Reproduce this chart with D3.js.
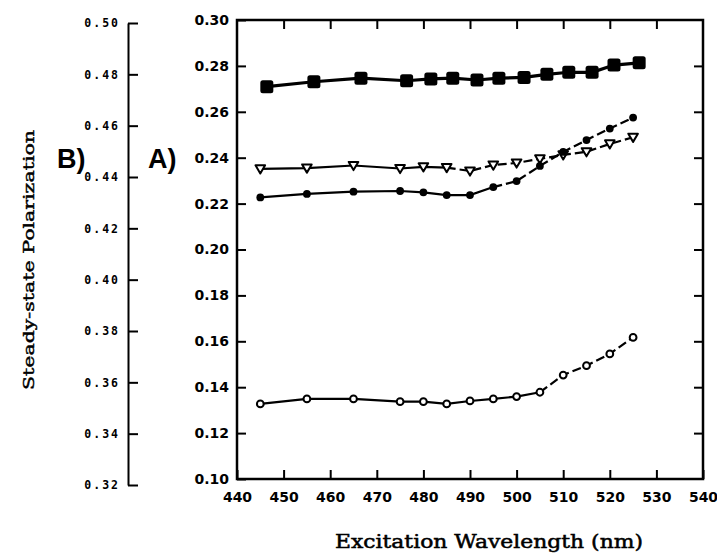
<!DOCTYPE html>
<html>
<head>
<meta charset="utf-8">
<script src="https://cdn.jsdelivr.net/npm/d3@7"></script>
<style>
body { margin: 0; background: #fff; }
svg { display: block; }
</style>
</head>
<body>
<svg width="717" height="560"></svg>
<script>
// values
var wavelengths = [445, 455, 465, 475, 480, 485, 490, 495, 500, 505, 510, 515, 520, 525];
var squareWavelengths = [446.4, 456.5, 466.6, 476.4, 481.6, 486.3, 491.5, 496.2, 501.6, 506.5, 511.2, 516.2, 520.9, 526.3];
var squaresB = [0.4752, 0.4771, 0.4785, 0.4775, 0.4782, 0.4785, 0.4778, 0.4785, 0.4788, 0.4800, 0.4808, 0.4808, 0.4836, 0.4845];
var trianglesA = [0.2351, 0.2355, 0.2366, 0.2353, 0.2360, 0.2357, 0.2342, 0.2368, 0.2377, 0.2395, 0.2412, 0.2426, 0.2460, 0.2489];
var filledA = [0.2227, 0.2242, 0.2252, 0.2255, 0.2249, 0.2237, 0.2237, 0.2272, 0.2298, 0.2364, 0.2425, 0.2477, 0.2527, 0.2575];
var openA = [0.1327, 0.1349, 0.1349, 0.1337, 0.1337, 0.1327, 0.1340, 0.1349, 0.1359, 0.1378, 0.1453, 0.1494, 0.1545, 0.1617];

var xTicks = [440, 450, 460, 470, 480, 490, 500, 510, 520, 530, 540];
var aTicks = [0.10, 0.12, 0.14, 0.16, 0.18, 0.20, 0.22, 0.24, 0.26, 0.28, 0.30];
var bTicks = [0.32, 0.34, 0.36, 0.38, 0.40, 0.42, 0.44, 0.46, 0.48, 0.50];

var svg = d3.select('svg');

var x = d3.scaleLinear().domain([440, 540]).range([237, 703]);
var yA = d3.scaleLinear().domain([0.10, 0.30]).range([479, 20]);
var yB = d3.scaleLinear().domain([0.32, 0.50]).range([485, 23]);

var boldSans = 'DejaVu Sans, sans-serif';

function styleAxis(g, width) {
    g.attr('font-family', boldSans).attr('font-weight', 'bold').attr('font-size', 14);
    g.selectAll('.tick line').attr('stroke', '#000').attr('stroke-width', width);
    g.selectAll('.tick text').attr('fill', '#000');
}

// frame of panel A
svg.append('rect')
    .attr('x', x.range()[0])
    .attr('y', yA.range()[1])
    .attr('width', x.range()[1] - x.range()[0])
    .attr('height', yA.range()[0] - yA.range()[1])
    .attr('fill', 'none')
    .attr('stroke', '#000')
    .attr('stroke-width', 2.5);

// bottom axis with labels
var axisBottomG = svg.append('g')
    .attr('transform', 'translate(0,' + yA.range()[0] + ')')
    .call(d3.axisBottom(x).tickValues(xTicks).tickSizeInner(-9).tickSizeOuter(0)
        .tickPadding(13).tickFormat(d3.format('d')));
axisBottomG.select('.domain').remove();
styleAxis(axisBottomG, 2);

// top axis, ticks only
var axisTopG = svg.append('g')
    .attr('transform', 'translate(0,' + yA.range()[1] + ')')
    .call(d3.axisTop(x).tickValues(xTicks.slice(1, -1)).tickSizeInner(-9).tickSizeOuter(0).tickFormat(''));
axisTopG.select('.domain').remove();
styleAxis(axisTopG, 2);

// left axis A
var axisLeftG = svg.append('g')
    .attr('transform', 'translate(' + x.range()[0] + ',0)')
    .call(d3.axisLeft(yA).tickValues(aTicks).tickSizeInner(-9).tickSizeOuter(0)
        .tickPadding(8).tickFormat(d3.format('.2f')));
axisLeftG.select('.domain').remove();
styleAxis(axisLeftG, 2);

// right axis, ticks only
var axisRightG = svg.append('g')
    .attr('transform', 'translate(' + x.range()[1] + ',0)')
    .call(d3.axisRight(yA).tickValues(aTicks.slice(1, -1)).tickSizeInner(-9).tickSizeOuter(0).tickFormat(''));
axisRightG.select('.domain').remove();
styleAxis(axisRightG, 2);

// separate axis B on the far left
var axisBG = svg.append('g')
    .attr('transform', 'translate(128,0)')
    .call(d3.axisLeft(yB).tickValues(bTicks).tickSizeInner(-10).tickSizeOuter(0)
        .tickPadding(8).tickFormat(d3.format('.2f')));
axisBG.select('.domain').attr('stroke', '#000').attr('stroke-width', 2);
axisBG.attr('font-family', 'DejaVu Sans Mono, monospace').attr('font-weight', 'bold').attr('font-size', 11.5);
axisBG.selectAll('.tick line').attr('stroke', '#000').attr('stroke-width', 2);
axisBG.selectAll('.tick text').attr('fill', '#000').attr('letter-spacing', 2);

// panel letters
svg.append('text').attr('x', 57).attr('y', 168).text('B)')
    .attr('font-family', 'Liberation Sans, Arial, sans-serif').attr('font-weight', 'bold').attr('font-size', 27);
svg.append('text').attr('x', 148).attr('y', 168).text('A)')
    .attr('font-family', 'Liberation Sans, Arial, sans-serif').attr('font-weight', 'bold').attr('font-size', 27);

// axis titles (thin stroke to thicken the regular serif a little)
svg.append('text')
    .attr('transform', 'translate(34,260) rotate(-90)')
    .attr('text-anchor', 'middle')
    .attr('font-family', 'DejaVu Serif, serif')
    .attr('font-size', 15)
    .attr('stroke', '#000')
    .attr('stroke-width', 0.45)
    .attr('textLength', 260)
    .attr('lengthAdjust', 'spacingAndGlyphs')
    .text('Steady-state Polarization');
svg.append('text')
    .attr('x', 489)
    .attr('y', 548)
    .attr('text-anchor', 'middle')
    .attr('font-family', 'DejaVu Serif, serif')
    .attr('font-size', 18)
    .attr('stroke', '#000')
    .attr('stroke-width', 0.5)
    .attr('textLength', 308)
    .attr('lengthAdjust', 'spacingAndGlyphs')
    .text('Excitation Wavelength (nm)');

// draw a series: solid up to index k, dashed after it
function drawLine(xs, ys, yScale, k, width) {
    var pts = xs.map(function(d, i) { return [x(d), yScale(ys[i])]; });
    var line = d3.line();
    svg.append('path')
        .attr('d', line(pts.slice(0, k + 1)))
        .attr('fill', 'none').attr('stroke', '#000').attr('stroke-width', width);
    if (k < pts.length - 1) {
        svg.append('path')
            .attr('d', line(pts.slice(k)))
            .attr('fill', 'none').attr('stroke', '#000').attr('stroke-width', width)
            .attr('stroke-dasharray', '9,4');
    }
}

drawLine(squareWavelengths, squaresB, yB, squaresB.length - 1, 3.2);
drawLine(wavelengths, trianglesA, yA, 5, 2.2);
drawLine(wavelengths, filledA, yA, 7, 2.2);
drawLine(wavelengths, openA, yA, 9, 2.2);

// squares
svg.selectAll('rect.sq')
    .data(squaresB)
    .enter()
    .append('rect')
        .attr('class', 'sq')
        .attr('x', function(d, i) { return x(squareWavelengths[i]) - 6.5; })
        .attr('y', function(d) { return yB(d) - 6.5; })
        .attr('width', 13)
        .attr('height', 13)
        .attr('rx', 2.5)
        .attr('fill', '#000');

// open inverted triangles
svg.selectAll('path.tri')
    .data(trianglesA)
    .enter()
    .append('path')
        .attr('class', 'tri')
        .attr('d', 'M-4.8,-3.6L4.8,-3.6L0,4.6Z')
        .attr('transform', function(d, i) {
            return 'translate(' + x(wavelengths[i]) + ',' + yA(d) + ')';
        })
        .attr('fill', '#fff')
        .attr('stroke', '#000')
        .attr('stroke-width', 2)
        .attr('stroke-linejoin', 'round');

// filled circles
svg.selectAll('circle.fc')
    .data(filledA)
    .enter()
    .append('circle')
        .attr('class', 'fc')
        .attr('cx', function(d, i) { return x(wavelengths[i]); })
        .attr('cy', function(d) { return yA(d); })
        .attr('r', 3.9)
        .attr('fill', '#000');

// open circles
svg.selectAll('circle.oc')
    .data(openA)
    .enter()
    .append('circle')
        .attr('class', 'oc')
        .attr('cx', function(d, i) { return x(wavelengths[i]); })
        .attr('cy', function(d) { return yA(d); })
        .attr('r', 3.4)
        .attr('fill', '#fff')
        .attr('stroke', '#000')
        .attr('stroke-width', 2);
</script>
</body>
</html>
